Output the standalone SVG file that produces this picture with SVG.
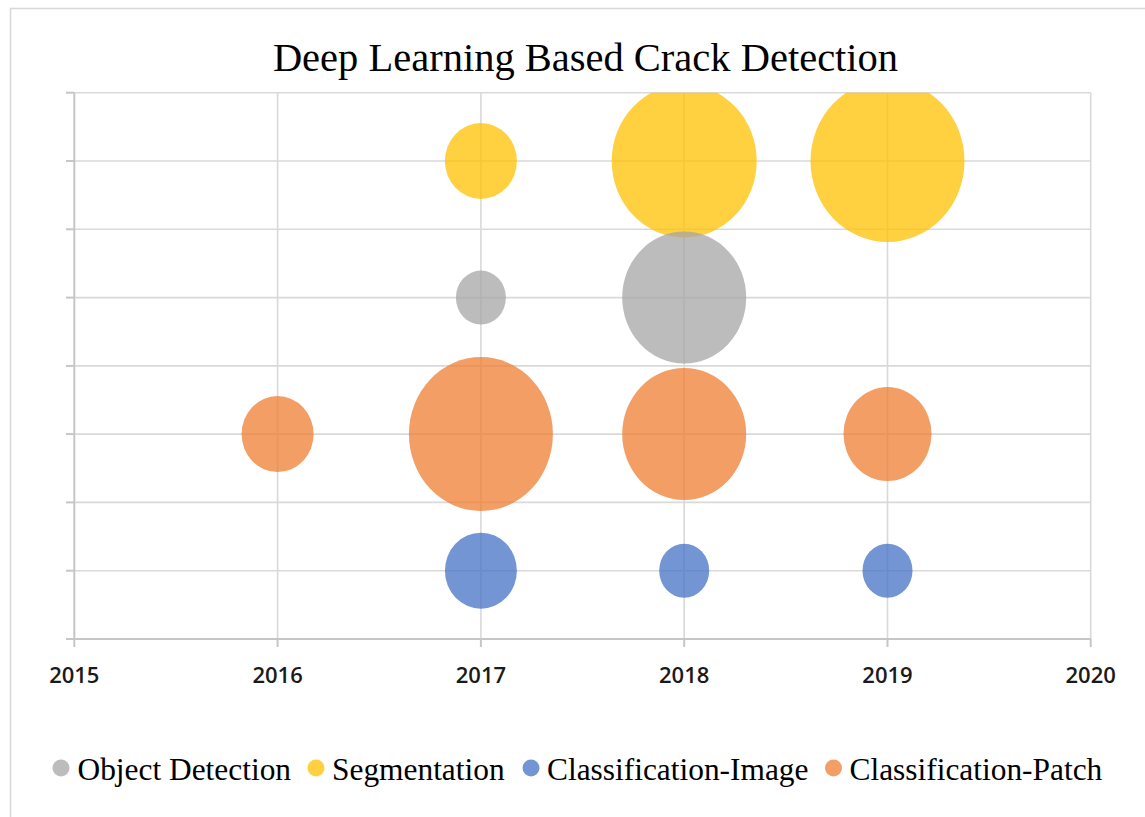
<svg xmlns="http://www.w3.org/2000/svg" width="1145" height="817" viewBox="0 0 1145 817">
  <style>
    .grid { stroke: #d9d9d9; stroke-width: 1.6; fill: none; }
    .axis { stroke: #c6c6c6; stroke-width: 2; fill: none; }
    .title { font-family: "Liberation Serif", "Times New Roman", serif; font-size: 40.5px; fill: #000; }
    .tick { font-family: "Open Sans", "Liberation Sans", Arial, sans-serif; font-size: 22px; font-weight: 600; fill: #1a1a1a; }
    .legend { font-family: "Liberation Serif", "Times New Roman", serif; font-size: 31.4px; fill: #000; }
    .od { fill: #a5a5a5; fill-opacity: 0.75; }
    .seg { fill: #ffc000; fill-opacity: 0.75; }
    .ci { fill: #4472c4; fill-opacity: 0.75; }
    .cp { fill: #ed7d31; fill-opacity: 0.75; }
  </style>
  <defs>
    <clipPath id="plot">
      <rect x="74.3" y="92.7" width="1016.4" height="546.3"/>
    </clipPath>
  </defs>

  <rect x="0" y="0" width="1145" height="817" fill="#ffffff"/>
  <!-- chart frame -->
  <rect x="10.5" y="8.5" width="1160" height="830" fill="none" stroke="#d9d9d9" stroke-width="1.6"/>

  <text class="title" x="585.5" y="71" text-anchor="middle">Deep Learning Based Crack Detection</text>

  <!-- gridlines, axes and ticks -->
  <g id="axes">
    <g class="grid">
      <line x1="74.3" y1="92.7" x2="1090.7" y2="92.7"/>
      <line x1="74.3" y1="161" x2="1090.7" y2="161"/>
      <line x1="74.3" y1="229.3" x2="1090.7" y2="229.3"/>
      <line x1="74.3" y1="297.6" x2="1090.7" y2="297.6"/>
      <line x1="74.3" y1="365.9" x2="1090.7" y2="365.9"/>
      <line x1="74.3" y1="434.1" x2="1090.7" y2="434.1"/>
      <line x1="74.3" y1="502.4" x2="1090.7" y2="502.4"/>
      <line x1="74.3" y1="570.7" x2="1090.7" y2="570.7"/>
      <line x1="277.6" y1="92.7" x2="277.6" y2="639"/>
      <line x1="480.9" y1="92.7" x2="480.9" y2="639"/>
      <line x1="684.2" y1="92.7" x2="684.2" y2="639"/>
      <line x1="887.5" y1="92.7" x2="887.5" y2="639"/>
      <line x1="1090.7" y1="92.7" x2="1090.7" y2="639"/>
    </g>
    <g class="axis">
      <line x1="74.3" y1="92.7" x2="74.3" y2="647"/>
      <line x1="66" y1="639" x2="1090.7" y2="639"/>
      <line x1="66" y1="92.7" x2="74.3" y2="92.7"/>
      <line x1="66" y1="161" x2="74.3" y2="161"/>
      <line x1="66" y1="229.3" x2="74.3" y2="229.3"/>
      <line x1="66" y1="297.6" x2="74.3" y2="297.6"/>
      <line x1="66" y1="365.9" x2="74.3" y2="365.9"/>
      <line x1="66" y1="434.1" x2="74.3" y2="434.1"/>
      <line x1="66" y1="502.4" x2="74.3" y2="502.4"/>
      <line x1="66" y1="570.7" x2="74.3" y2="570.7"/>
      <line x1="277.6" y1="639" x2="277.6" y2="647"/>
      <line x1="480.9" y1="639" x2="480.9" y2="647"/>
      <line x1="684.2" y1="639" x2="684.2" y2="647"/>
      <line x1="887.5" y1="639" x2="887.5" y2="647"/>
      <line x1="1090.7" y1="639" x2="1090.7" y2="647"/>
    </g>
    <g text-anchor="middle">
      <text class="tick" x="74.3" y="682.5">2015</text>
      <text class="tick" x="277.6" y="682.5">2016</text>
      <text class="tick" x="480.9" y="682.5">2017</text>
      <text class="tick" x="684.2" y="682.5">2018</text>
      <text class="tick" x="887.5" y="682.5">2019</text>
      <text class="tick" x="1090.7" y="682.5">2020</text>
    </g>
  </g>

  <!-- bubbles -->
  <g id="bubbles" clip-path="url(#plot)">
    <g id="seg-2017"><ellipse class="seg" cx="480.9" cy="161" rx="36" ry="38"/></g>
    <g id="seg-2018"><ellipse class="seg" cx="684.2" cy="161" rx="72.5" ry="76.5"/></g>
    <g id="seg-2019"><ellipse class="seg" cx="887.5" cy="161" rx="77" ry="81"/></g>
    <g id="od-2017"><ellipse class="od" cx="480.9" cy="297.6" rx="25" ry="27"/></g>
    <g id="od-2018"><ellipse class="od" cx="684.2" cy="297.6" rx="62" ry="66"/></g>
    <g id="cp-2016"><ellipse class="cp" cx="277.6" cy="434.1" rx="36" ry="38"/></g>
    <g id="cp-2017"><ellipse class="cp" cx="480.9" cy="434.1" rx="72" ry="77"/></g>
    <g id="cp-2018"><ellipse class="cp" cx="684.2" cy="434.1" rx="62" ry="66"/></g>
    <g id="cp-2019"><ellipse class="cp" cx="887.5" cy="434.1" rx="44" ry="47"/></g>
    <g id="ci-2017"><ellipse class="ci" cx="480.9" cy="570.7" rx="36" ry="38"/></g>
    <g id="ci-2018"><ellipse class="ci" cx="684.2" cy="570.7" rx="25" ry="27"/></g>
    <g id="ci-2019"><ellipse class="ci" cx="887.5" cy="570.7" rx="25" ry="27"/></g>
  </g>

  <!-- legend -->
  <g id="legend">
    <g id="legend-od"><circle class="od" cx="61" cy="768" r="8.5"/><text class="legend" x="77.5" y="780">Object Detection</text></g>
    <g id="legend-seg"><circle class="seg" cx="316" cy="768" r="8.5"/><text class="legend" x="332" y="780">Segmentation</text></g>
    <g id="legend-ci"><circle class="ci" cx="531" cy="768" r="8.5"/><text class="legend" x="547" y="780">Classification-Image</text></g>
    <g id="legend-cp"><circle class="cp" cx="833.5" cy="768" r="8.5"/><text class="legend" x="849.5" y="780">Classification-Patch</text></g>
  </g>
</svg>
